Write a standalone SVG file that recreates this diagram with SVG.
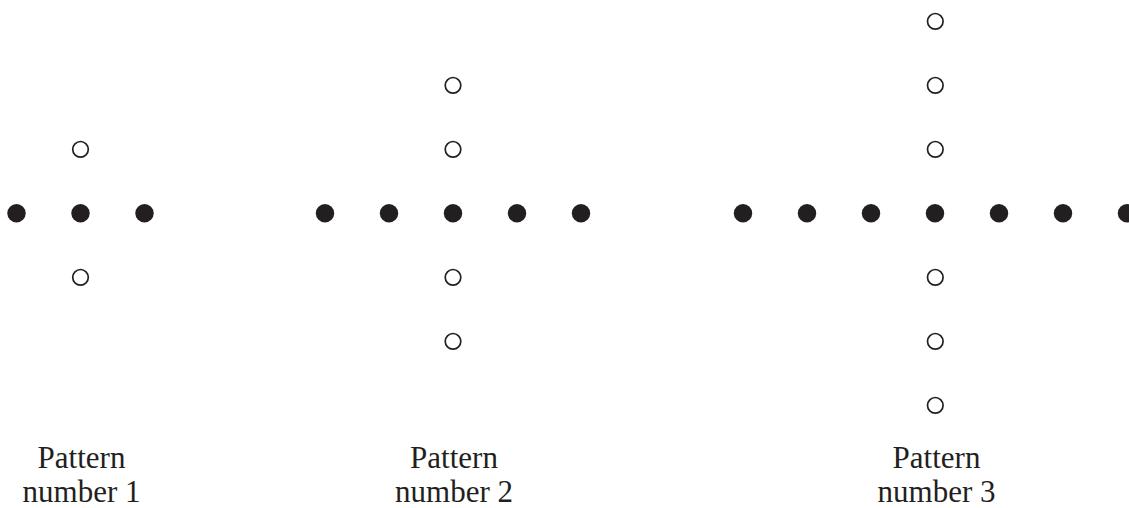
<svg xmlns="http://www.w3.org/2000/svg" width="1129" height="508" viewBox="0 0 1129 508">
<style>
.f{fill:#231f20}
.o{fill:#fff;stroke:#231f20;stroke-width:1.7}
.t{font-family:"Liberation Serif","Times New Roman",serif;font-size:31px;fill:#231f20;text-anchor:middle}
</style>
<rect width="1129" height="508" fill="#fff"/>
<g id="pattern1">
<circle class="o" cx="80.5" cy="149.3" r="7.8"/>
<circle class="f" cx="16.5" cy="213.3" r="9.2"/>
<circle class="f" cx="80.5" cy="213.3" r="9.2"/>
<circle class="f" cx="144.5" cy="213.3" r="9.2"/>
<circle class="o" cx="80.5" cy="277.3" r="7.8"/>
<text class="t" x="81.5" y="468">Pattern</text>
<text class="t" x="81.5" y="502">number 1</text>
</g>
<g id="pattern2">
<circle class="o" cx="453" cy="85.3" r="7.8"/>
<circle class="o" cx="453" cy="149.3" r="7.8"/>
<circle class="f" cx="325" cy="213.3" r="9.2"/>
<circle class="f" cx="389" cy="213.3" r="9.2"/>
<circle class="f" cx="453" cy="213.3" r="9.2"/>
<circle class="f" cx="517" cy="213.3" r="9.2"/>
<circle class="f" cx="581" cy="213.3" r="9.2"/>
<circle class="o" cx="453" cy="277.3" r="7.8"/>
<circle class="o" cx="453" cy="341.3" r="7.8"/>
<text class="t" x="454" y="468">Pattern</text>
<text class="t" x="454" y="502">number 2</text>
</g>
<g id="pattern3">
<circle class="o" cx="935.3" cy="21.3" r="7.8"/>
<circle class="o" cx="935.3" cy="85.3" r="7.8"/>
<circle class="o" cx="935.3" cy="149.3" r="7.8"/>
<circle class="f" cx="743" cy="213.3" r="9.2"/>
<circle class="f" cx="807" cy="213.3" r="9.2"/>
<circle class="f" cx="871" cy="213.3" r="9.2"/>
<circle class="f" cx="935" cy="213.3" r="9.2"/>
<circle class="f" cx="999" cy="213.3" r="9.2"/>
<circle class="f" cx="1063" cy="213.3" r="9.2"/>
<circle class="f" cx="1127" cy="213.3" r="9.2"/>
<circle class="o" cx="935.3" cy="277.3" r="7.8"/>
<circle class="o" cx="935.3" cy="341.3" r="7.8"/>
<circle class="o" cx="935.3" cy="405.3" r="7.8"/>
<text class="t" x="936.5" y="468">Pattern</text>
<text class="t" x="936.5" y="502">number 3</text>
</g>
<g id="connectors"/>
</svg>
